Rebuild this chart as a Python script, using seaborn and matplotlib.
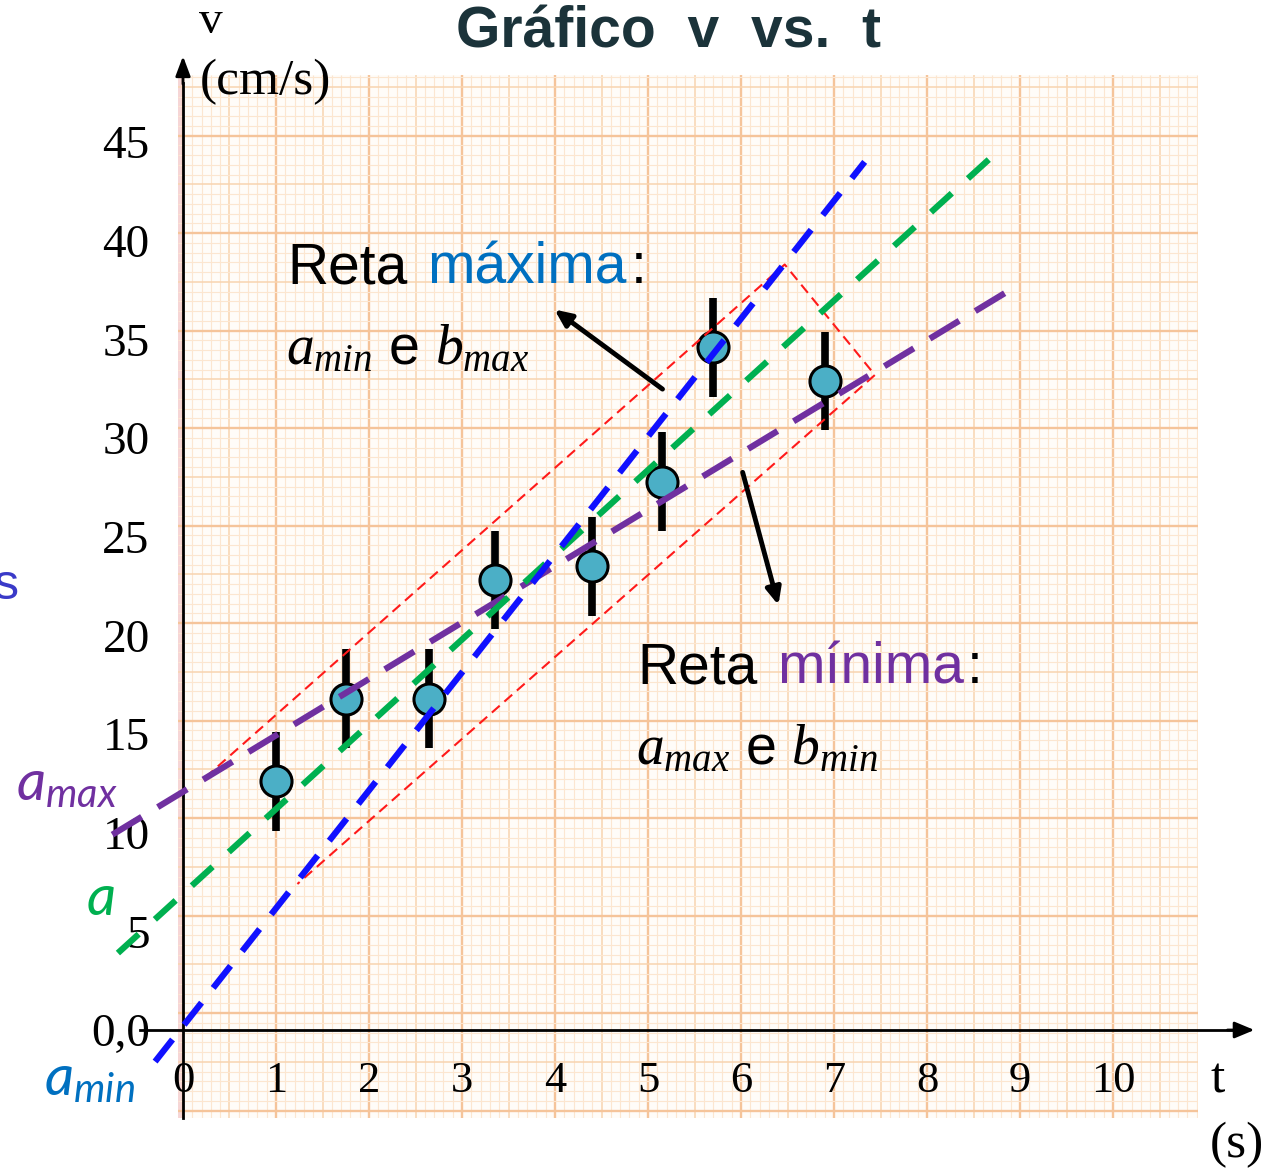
import numpy as np
import matplotlib.pyplot as plt
import seaborn as sns

# data
t = [1.0, 1.75, 2.65, 3.35, 4.4, 5.15, 5.7, 6.9]
v = [12.6, 16.8, 16.8, 22.8, 23.5, 27.8, 34.6, 32.9]
v_err = [2.5, 2.5, 2.5, 2.5, 2.5, 2.5, 2.5, 2.5]

# fitted lines (end points)
t_blue = [-0.30, 7.33]
v_blue = [-1.6, 44.0]
t_green = [-0.70, 8.73]
v_green = [3.9, 44.4]
t_purple = [-0.76, 8.89]
v_purple = [9.9, 37.5]

# error parallelogram corners
t_box = [0.24, 6.47, 7.44, 1.23, 0.24]
v_box = [12.8, 38.8, 33.2, 7.4, 12.8]

x_ticks = [0, 1, 2, 3, 4, 5, 6, 7, 8, 9, 10]
y_ticks = [0, 5, 10, 15, 20, 25, 30, 35, 40, 45]
y_ticklabels = ["0,0", "5", "10", "15", "20", "25", "30", "35", "40", "45"]

W, H = 1268, 1170
sns.set_style("white")
plt.rcParams['font.family'] = ['Liberation Sans', 'DejaVu Sans']
plt.rcParams['text.color'] = 'black'
plt.rcParams['xtick.color'] = 'black'
plt.rcParams['ytick.color'] = 'black'
plt.rcParams['mathtext.fontset'] = 'custom'
plt.rcParams['mathtext.rm'] = 'Liberation Serif'
plt.rcParams['mathtext.it'] = 'Liberation Serif:italic'
plt.rcParams['mathtext.sf'] = 'Lato:italic'

fig = plt.figure(figsize=(W / 100, H / 100), dpi=100)

# graph paper background
pax = fig.add_axes([178 / W, 1 - 1118 / H, 1020 / W, 1043 / H])
pax.set_xlim(178, 1198)
pax.set_ylim(1118, 75)
pax.axis('off')
pax.add_patch(plt.Rectangle((178, 75), 1020, 1043, color='#fffcf8', zorder=0))
pax.add_patch(plt.Rectangle((178, 75), 5, 1043, color='#f6d6d6', zorder=0))


def paper_style(k):
    if k % 10 == 0:
        return '#f5c49a', 1.7
    if k % 5 == 0:
        return '#f8d4b0', 1.1
    return '#fce6d0', 0.8


for k in range(-1, 112):
    x = 183 + 9.3 * k
    if 178 <= x <= 1198:
        c, lw = paper_style(k)
        pax.vlines(x, 75, 1118, color=c, lw=lw, zorder=1)
for j in range(-40, 80):
    y = 428 + 9.75 * j
    if 75 <= y <= 1118:
        c, lw = paper_style(j)
        pax.hlines(y, 178, 1198, color=c, lw=lw, zorder=1)

# main axes in data units spanning the figure
ax = fig.add_axes([0, 0, 1, 1])
ax.set_facecolor('none')
ax.set_xlim(-183 / 93, (W - 183) / 93)
ax.set_ylim((1030 - H) / 19.73, 1030 / 19.73)

for s in ['top', 'right']:
    ax.spines[s].set_visible(False)
ax.spines['left'].set_position(('data', 0))
ax.spines['bottom'].set_position(('data', 0))
ax.spines['left'].set_bounds(-4.46, 48.0)
ax.spines['bottom'].set_bounds(-0.46, 11.3)
for s in ['left', 'bottom']:
    ax.spines[s].set_linewidth(2)
    ax.spines[s].set_color('black')
ax.annotate('', xy=(11.55, 0), xytext=(11.2, 0),
            arrowprops=dict(arrowstyle='-|>,head_length=1.2,head_width=0.5', color='black', lw=2))
ax.annotate('', xy=(0, 49.5), xytext=(0, 47.8),
            arrowprops=dict(arrowstyle='-|>,head_length=1.2,head_width=0.45', color='black', lw=2))

ax.set_xticks(x_ticks)
ax.set_xticklabels([str(x) for x in x_ticks], fontfamily='Liberation Serif', fontsize=32)
ax.set_yticks(y_ticks)
ax.set_yticklabels(y_ticklabels, fontfamily='Liberation Serif', fontsize=34)
ax.tick_params(axis='x', direction='inout', length=8, width=1.5, pad=18)
ax.tick_params(axis='y', direction='out', length=22, width=1.5, pad=2)
ax.xaxis.get_major_ticks()[0].tick1line.set_visible(False)

# error bars and points
ax.errorbar(t, v, yerr=v_err, fmt='none', ecolor='black', elinewidth=5.5, capsize=0, zorder=3)
sns.scatterplot(x=t, y=v, ax=ax, s=500, color='#4bafc6', edgecolor='black', linewidth=2.2, zorder=4)

# error parallelogram
sns.lineplot(x=t_box, y=v_box, ax=ax, sort=False, color='#ff1a1a', lw=1.5,
             linestyle=(0, (5, 3)), zorder=5)

# straight lines
sns.lineplot(x=t_purple, y=v_purple, ax=ax, color='#7030a0', lw=4.5, linestyle=(0, (5.5, 3)), zorder=6)
sns.lineplot(x=t_green, y=v_green, ax=ax, color='#00b050', lw=4.5, linestyle=(0, (4.5, 3.5)), zorder=6)
sns.lineplot(x=t_blue, y=v_blue, ax=ax, color='#1010ff', lw=4.5, linestyle=(0, (4.5, 3)), zorder=6)

# arrows
ax.annotate('', xy=(3.97, 36.6), xytext=(5.18, 32.4),
            arrowprops=dict(arrowstyle='-|>,head_length=1.0,head_width=0.45', color='black', lw=3.5),
            zorder=7)
ax.annotate('', xy=(6.41, 21.4), xytext=(6.01, 28.4),
            arrowprops=dict(arrowstyle='-|>,head_length=1.0,head_width=0.45', color='black', lw=3.5),
            zorder=7)


def ftext(x, y, s, **kw):
    fig.text(x / W, 1 - y / H, s, **kw)


# title and axis names
ftext(668, 32, "Gráfico  v  vs.  t", ha='center', va='center', fontsize=41,
      fontweight='bold', color='#1b333a')
ftext(211, 22, "v", ha='center', va='center', fontsize=34, fontfamily='Liberation Serif')
ftext(265, 82, "(cm/s)", ha='center', va='center', fontsize=37, fontfamily='Liberation Serif')
ftext(1218, 1080, "t", ha='center', va='center', fontsize=37, fontfamily='Liberation Serif')
ftext(1237, 1145, "(s)", ha='center', va='center', fontsize=37, fontfamily='Liberation Serif')

# annotations
ftext(287, 268, "Reta", ha='left', va='center', fontsize=41)
ftext(427, 268, "máxima", ha='left', va='center', fontsize=41, color='#0070c0')
ftext(631, 268, ":", ha='left', va='center', fontsize=41)
ftext(286, 350, r"$a_{min}$ e $b_{max}$", ha='left', va='center', fontsize=40)
ftext(637, 668, "Reta", ha='left', va='center', fontsize=41)
ftext(777, 668, "mínima", ha='left', va='center', fontsize=41, color='#7030a0')
ftext(967, 668, ":", ha='left', va='center', fontsize=41)
ftext(636, 750, r"$a_{max}$ e $b_{min}$", ha='left', va='center', fontsize=40)

ftext(16, 785, r"$\mathsf{a}_{\mathsf{max}}$", ha='left', va='center', fontsize=41, color='#7030a0')
ftext(86, 900, r"$\mathsf{a}$", ha='left', va='center', fontsize=41, color='#00b050')
ftext(44, 1080, r"$\mathsf{a}_{\mathsf{min}}$", ha='left', va='center', fontsize=41, color='#0070c0')
ftext(-6, 586, "s", ha='left', va='center', fontsize=36, color='#3a3ac8')

fig.savefig('out.png', dpi=100)
